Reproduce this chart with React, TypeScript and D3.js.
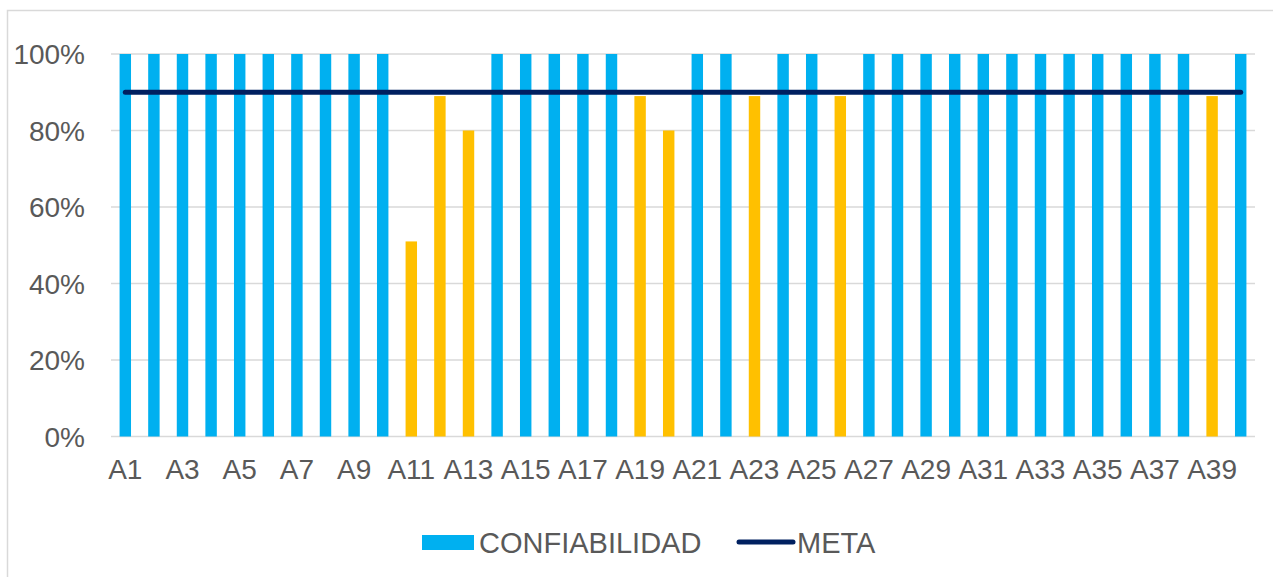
import * as d3 from "d3";

const categories = [
  "A1", "A2", "A3", "A4", "A5", "A6", "A7", "A8", "A9", "A10",
  "A11", "A12", "A13", "A14", "A15", "A16", "A17", "A18", "A19", "A20",
  "A21", "A22", "A23", "A24", "A25", "A26", "A27", "A28", "A29", "A30",
  "A31", "A32", "A33", "A34", "A35", "A36", "A37", "A38", "A39", "A40",
];

// confiabilidad (%)
const confiabilidad = [
  100, 100, 100, 100, 100, 100, 100, 100, 100, 100,
  51, 89, 80, 100, 100, 100, 100, 100, 89, 80,
  100, 100, 89, 100, 100, 89, 100, 100, 100, 100,
  100, 100, 100, 100, 100, 100, 100, 100, 89, 100,
];

const meta = 90;
const yTicks = [0, 20, 40, 60, 80, 100];

const W = 1273;
const H = 577;
const FONT = "'Liberation Sans', Arial, sans-serif";
const TEXT = "#595959";
const GRID = "#d9d9d9";
const BLUE = "#00B0F0";
const ORANGE = "#FFC000";
const NAVY = "#002060";

export default function App() {
  const x = d3.scaleBand<string>().domain(categories).range([111, 1255]).paddingInner(0.6).paddingOuter(0.3);
  const y = d3.scaleLinear().domain([0, 100]).range([436.5, 54]);
  const bw = x.bandwidth();
  const cx = (c: string) => (x(c) ?? 0) + bw / 2;

  const metaLine = d3
    .line<string>()
    .x((c) => cx(c))
    .y(() => y(meta));

  return (
    <div style={{ position: "fixed", left: 0, top: 0 }}>
      <svg width={W} height={H} style={{ display: "block", background: "#fff" }} fontFamily={FONT}>
        <rect x={7.5} y={10.5} width={W} height={H} fill="none" stroke={GRID} strokeWidth={1.5} />

        {yTicks.map((t) => (
          <g key={t}>
            <line x1={111} x2={1255} y1={y(t)} y2={y(t)} stroke={GRID} strokeWidth={1.5} />
            <text x={85} y={y(t) + 10} textAnchor="end" fontSize={28} fill={TEXT}>
              {t}%
            </text>
          </g>
        ))}

        {categories.map((c, i) => (
          <rect
            key={c}
            x={x(c)}
            y={y(confiabilidad[i])}
            width={bw}
            height={y(0) - y(confiabilidad[i])}
            fill={confiabilidad[i] < meta ? ORANGE : BLUE}
          />
        ))}

        <path d={metaLine(categories) ?? ""} fill="none" stroke={NAVY} strokeWidth={5} strokeLinecap="round" />

        {categories.map((c, i) =>
          i % 2 === 0 ? (
            <text key={c} x={cx(c)} y={479} textAnchor="middle" fontSize={28} fill={TEXT}>
              {c}
            </text>
          ) : null
        )}

        <g>
          <rect x={422} y={535} width={52} height={15} fill={BLUE} />
          <text x={479} y={553} fontSize={29} fill={TEXT}>
            CONFIABILIDAD
          </text>
          <line x1={739} x2={793} y1={542} y2={542} stroke={NAVY} strokeWidth={5} strokeLinecap="round" />
          <text x={797} y={553} fontSize={29} fill={TEXT}>
            META
          </text>
        </g>
      </svg>
    </div>
  );
}
